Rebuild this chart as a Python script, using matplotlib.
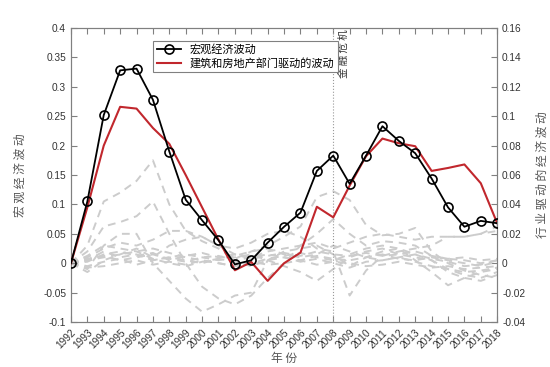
import numpy as np
import matplotlib.pyplot as plt
from matplotlib.ticker import FuncFormatter

plt.rcParams['font.family'] = ['Liberation Sans', 'Noto Sans CJK SC', 'DejaVu Sans']
cjk = ['Noto Sans CJK SC', 'DejaVu Sans']

years = list(range(1992, 2019))

macro = [0, 0.105, 0.252, 0.328, 0.331, 0.278, 0.19, 0.108, 0.073, 0.039,
         -0.002, 0.005, 0.035, 0.062, 0.086, 0.157, 0.183, 0.135, 0.183, 0.233,
         0.208, 0.187, 0.144, 0.095, 0.062, 0.072, 0.068]
housing = [0, 0.095, 0.2, 0.266, 0.263, 0.23, 0.203, 0.15, 0.095, 0.04,
           -0.012, 0.002, -0.03, 0.0, 0.018, 0.096, 0.078, 0.132, 0.182, 0.212,
           0.204, 0.199, 0.157, 0.162, 0.168, 0.136, 0.068]

# industry-driven fluctuations (right axis)
industry = [
    [0, 0.012, 0.042, 0.048, 0.056, 0.070, 0.040, 0.022, 0.015, 0.010, 0.003, 0.008, 0.012,
     0.018, 0.025, 0.045, 0.049, 0.043, 0.026, 0.019, 0.020, 0.024, 0.008, 0.000, -0.005, -0.008, -0.010],
    [0, 0.008, 0.025, 0.028, 0.032, 0.042, 0.020, 0.000, -0.016, -0.024, -0.028, -0.022, -0.010,
     0.000, 0.012, 0.020, 0.030, 0.020, 0.012, 0.015, 0.014, 0.012, 0.005, 0.003, 0.002, 0.000, 0.002],
    [0, -0.004, 0.012, 0.020, 0.020, 0.000, -0.012, -0.024, -0.033, -0.028, -0.022, -0.020, 0.002,
     0.008, 0.010, 0.012, 0.006, -0.002, 0.004, 0.008, 0.010, 0.002, -0.006, -0.015, -0.010, -0.006, -0.004],
    [0, 0.004, 0.010, 0.014, 0.012, 0.016, 0.022, 0.022, 0.018, 0.012, 0.010, 0.014, 0.020,
     0.022, 0.018, 0.010, 0.008, -0.022, -0.005, 0.005, 0.008, 0.010, 0.012, 0.018, 0.018, 0.020, 0.022],
    [0, -0.006, 0.002, 0.006, 0.010, 0.004, 0.012, 0.016, 0.018, 0.012, 0.006, 0.004, 0.008,
     0.010, 0.012, 0.014, 0.010, 0.014, 0.018, 0.020, 0.018, 0.016, 0.018, 0.018, 0.018, 0.020, 0.025],
    [0, 0.002, 0.008, 0.004, 0.006, 0.002, 0.004, 0.006, 0.004, 0.002, 0.004, 0.006, 0.002,
     -0.002, -0.006, -0.012, -0.004, 0.004, 0.008, 0.010, 0.006, 0.004, 0.002, -0.004, -0.008, -0.010, -0.006],
    [0, 0.003, 0.005, 0.002, 0.004, 0.006, 0.003, 0.001, 0.004, 0.005, 0.002, 0.004, 0.006,
     0.004, 0.002, 0.005, 0.003, 0.002, 0.004, 0.006, 0.003, 0.002, 0.004, 0.002, 0.000, -0.002, 0.001],
    [0, -0.002, 0.001, 0.003, -0.001, 0.002, 0.004, 0.002, 0.000, 0.003, 0.001, -0.002, 0.002,
     0.004, 0.001, 0.003, 0.000, -0.003, 0.001, 0.002, 0.004, 0.001, -0.002, -0.004, -0.006, -0.005, -0.003],
    [0, 0.001, 0.006, 0.008, 0.005, 0.007, 0.002, 0.005, 0.007, 0.004, 0.006, 0.003, 0.005,
     0.007, 0.005, 0.008, 0.006, 0.005, 0.007, 0.005, 0.006, 0.008, 0.005, 0.003, 0.004, 0.002, 0.003],
    [0, -0.003, -0.002, 0.000, 0.002, -0.001, 0.001, -0.001, 0.002, 0.000, -0.002, 0.001, -0.001,
     0.000, 0.002, -0.001, 0.001, 0.000, -0.002, -0.001, 0.001, -0.001, -0.003, -0.002, -0.004, -0.003, -0.002],
    [0, 0.005, 0.012, 0.010, 0.008, 0.003, 0.000, -0.002, 0.001, 0.003, 0.005, 0.008, 0.010,
     0.006, 0.004, 0.006, 0.012, 0.008, 0.004, 0.002, 0.004, 0.006, 0.003, 0.001, -0.002, -0.001, 0.002],
    [0, 0.002, 0.004, 0.006, 0.008, 0.010, 0.007, 0.004, 0.002, 0.000, -0.002, 0.000, 0.003,
     0.005, 0.007, 0.004, 0.002, 0.006, 0.010, 0.012, 0.010, 0.006, 0.002, -0.006, -0.010, -0.012, -0.008],
]

fig = plt.figure(figsize=(5.5, 3.67), dpi=100)
ax = fig.add_axes([0.129, 0.1226, 0.775, 0.801])
ax2 = ax.twinx()

for s in industry:
    ax2.plot(years, s, color='#cccccc', lw=1.4, ls=(0, (4, 3)))

ax.plot(years, macro, color='black', lw=1.3, marker='o', ms=6.5,
        mfc='none', mec='black', mew=1.2, label='宏观经济波动', zorder=4)
ax.plot(years, housing, color='#c1272d', lw=1.5, label='建筑和房地产部门驱动的波动', zorder=3)

ax.axvline(2008, color='#999999', lw=0.8, ls=':')
ax.text(2008.35, 0.397, '金 融 危 机', rotation=90, ha='left', va='top',
        fontsize=7.5, color='#333333', family=cjk)

ax.set_zorder(ax2.get_zorder() + 1)
ax.patch.set_visible(False)

ax.set_xlim(1992, 2018)
ax.set_ylim(-0.1, 0.4)
ax2.set_ylim(-0.04, 0.16)
ax.set_xticks(years)
ax.set_xticklabels([str(y) for y in years], rotation=45, ha='right',
                   rotation_mode='anchor', fontsize=7.3, color='#333333')
ax.set_yticks(np.arange(-0.1, 0.401, 0.05))
ax2.set_yticks(np.arange(-0.04, 0.161, 0.02))
fmt = FuncFormatter(lambda v, p: f'{round(v, 3):g}')
ax.yaxis.set_major_formatter(fmt)
ax2.yaxis.set_major_formatter(fmt)

for a in (ax, ax2):
    for sp in a.spines.values():
        sp.set_color('#808080')
        sp.set_linewidth(0.8)
ax.tick_params(axis='x', direction='in', top=True, length=4, color='#808080', pad=4)
ax.tick_params(axis='y', direction='in', length=4, color='#808080', labelsize=7.3, labelcolor='#333333')
ax2.tick_params(axis='y', direction='in', length=4, color='#808080', labelsize=7.3, labelcolor='#333333')

ax.set_xlabel('年 份', family=cjk, fontsize=8.5, color='#555555', labelpad=1)
ax.set_ylabel('宏 观 经 济 波 动', family=cjk, fontsize=8.5, color='#555555', labelpad=12)
ax2.set_ylabel('行 业 驱 动 的 经 济 波 动', family=cjk, fontsize=8.5, color='#555555', labelpad=8)

leg = ax.legend(loc='upper left', bbox_to_anchor=(0.18, 0.975), fancybox=False,
                edgecolor='#808080', prop={'family': cjk, 'size': 8},
                handlelength=2.2, borderpad=0.3, labelspacing=0.25, framealpha=1)
leg.get_frame().set_linewidth(0.8)

fig.savefig('out.png', dpi=100)
